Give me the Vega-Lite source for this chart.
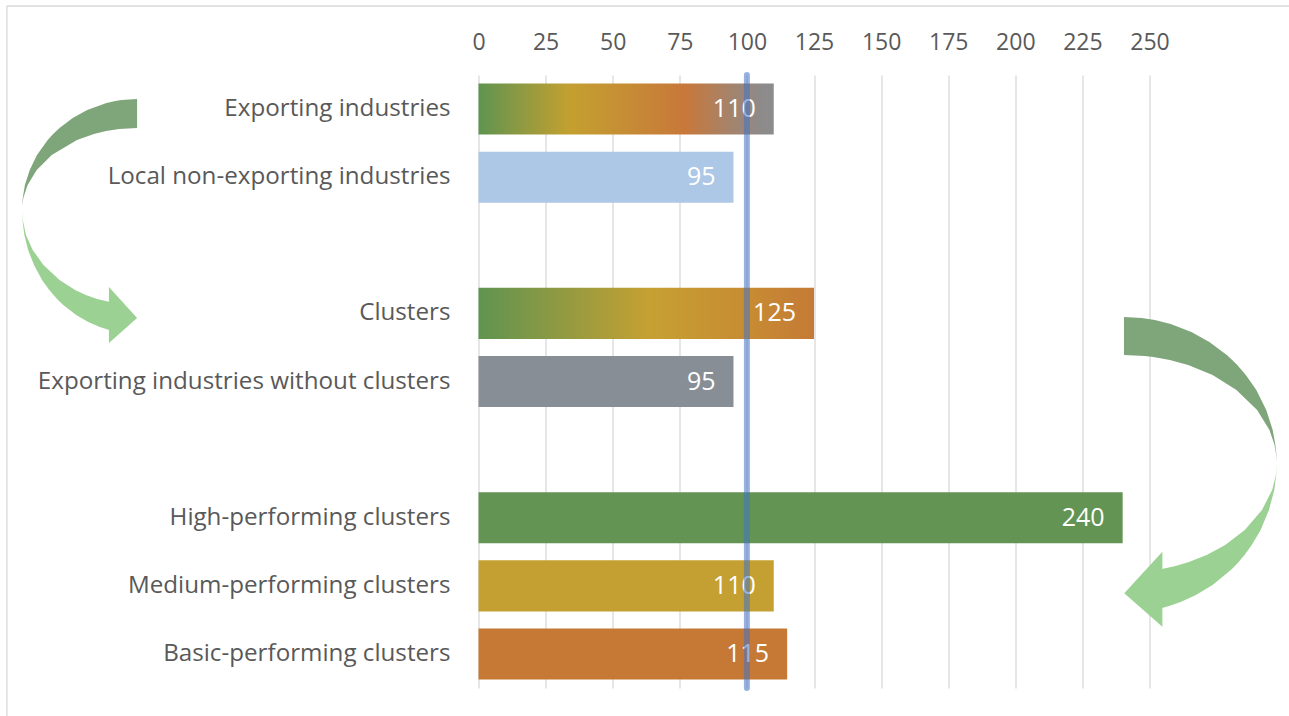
{
  "$schema": "https://vega.github.io/schema/vega-lite/v6.json",
  "width": 671,
  "height": 613,
  "autosize": {"type": "none"},
  "padding": {"left": 478.5, "top": 75, "right": 139.5, "bottom": 28},
  "background": "white",
  "config": {
    "view": {"stroke": null},
    "font": "Open Sans",
    "axis": {
      "domain": false,
      "ticks": false,
      "tickSize": 0,
      "labelColor": "#595959",
      "labelFont": "Open Sans",
      "labelFlush": false,
      "labelOverlap": false,
      "gridColor": "#d9d9d9",
      "gridWidth": 1.3
    }
  },
  "datasets": {
    "bars": [
      {"name": "Exporting industries", "value": 110},
      {"name": "Local non-exporting industries", "value": 95},
      {"name": "Clusters", "value": 125},
      {"name": "Exporting industries without clusters", "value": 95},
      {"name": "High-performing clusters", "value": 240},
      {"name": "Medium-performing clusters", "value": 110},
      {"name": "Basic-performing clusters", "value": 115}
    ],
    "arrows": [
      {"shape": "left-back", "part": "back", "pos": 0.352, "from": -127.2, "to": -127.2},
      {"shape": "left-back", "part": "back", "pos": 0.367, "from": -133.0, "to": -127.2},
      {"shape": "left-back", "part": "back", "pos": 0.382, "from": -135.3, "to": -127.2},
      {"shape": "left-back", "part": "back", "pos": 0.411, "from": -138.6, "to": -127.2},
      {"shape": "left-back", "part": "back", "pos": 0.514, "from": -145.8, "to": -127.2},
      {"shape": "left-back", "part": "back", "pos": 0.631, "from": -151.2, "to": -127.2},
      {"shape": "left-back", "part": "back", "pos": 0.778, "from": -156.1, "to": -127.2},
      {"shape": "left-back", "part": "back", "pos": 0.793, "from": -156.5, "to": -133.9},
      {"shape": "left-back", "part": "back", "pos": 0.822, "from": -157.3, "to": -138.7},
      {"shape": "left-back", "part": "back", "pos": 0.866, "from": -158.5, "to": -143.3},
      {"shape": "left-back", "part": "back", "pos": 0.954, "from": -160.5, "to": -149.6},
      {"shape": "left-back", "part": "back", "pos": 1.175, "from": -164.5, "to": -159.0},
      {"shape": "left-back", "part": "back", "pos": 1.395, "from": -167.2, "to": -164.6},
      {"shape": "left-back", "part": "back", "pos": 1.615, "from": -169.0, "to": -168.0},
      {"shape": "left-back", "part": "back", "pos": 1.806, "from": -169.8, "to": -169.6},
      {"shape": "left-back", "part": "back", "pos": 1.923, "from": -170.0, "to": -170.0},
      {"shape": "left-back", "part": "back", "pos": 1.982, "from": -170.1, "to": -170.1},

      {"shape": "left-front", "part": "front", "pos": 1.982, "from": -170.1, "to": -170.1},
      {"shape": "left-front", "part": "front", "pos": 2.129, "from": -169.9, "to": -169.8},
      {"shape": "left-front", "part": "front", "pos": 2.349, "from": -169.2, "to": -168.6},
      {"shape": "left-front", "part": "front", "pos": 2.569, "from": -167.8, "to": -166.1},
      {"shape": "left-front", "part": "front", "pos": 2.790, "from": -165.6, "to": -162.1},
      {"shape": "left-front", "part": "front", "pos": 3.010, "from": -162.6, "to": -156.1},
      {"shape": "left-front", "part": "front", "pos": 3.157, "from": -159.9, "to": -150.3},
      {"shape": "left-front", "part": "front", "pos": 3.230, "from": -158.3, "to": -146.3},
      {"shape": "left-front", "part": "front", "pos": 3.289, "from": -157.0, "to": -142.1},
      {"shape": "left-front", "part": "front", "pos": 3.333, "from": -155.9, "to": -137.3},
      {"shape": "left-front", "part": "front", "pos": 3.377, "from": -154.7, "to": -137.3},
      {"shape": "left-front", "part": "front", "pos": 3.524, "from": -149.9, "to": -137.3},
      {"shape": "left-front", "part": "front", "pos": 3.626, "from": -145.4, "to": -137.3},
      {"shape": "left-front", "part": "front", "pos": 3.700, "from": -141.1, "to": -137.3},
      {"shape": "left-front", "part": "front", "pos": 3.744, "from": -137.6, "to": -137.3},

      {"shape": "left-head", "part": "front", "pos": 3.113, "from": -137.7, "to": -137.7},
      {"shape": "left-head", "part": "front", "pos": 3.568, "from": -137.7, "to": -127.2},
      {"shape": "left-head", "part": "front", "pos": 3.935, "from": -137.7, "to": -137.7},

      {"shape": "right-back", "part": "back", "pos": 3.553, "from": 240.5, "to": 240.5},
      {"shape": "right-back", "part": "back", "pos": 3.568, "from": 247.1, "to": 240.5},
      {"shape": "right-back", "part": "back", "pos": 3.597, "from": 252.0, "to": 240.5},
      {"shape": "right-back", "part": "back", "pos": 3.656, "from": 257.9, "to": 240.5},
      {"shape": "right-back", "part": "back", "pos": 3.773, "from": 265.6, "to": 240.5},
      {"shape": "right-back", "part": "back", "pos": 3.920, "from": 272.3, "to": 240.5},
      {"shape": "right-back", "part": "back", "pos": 4.111, "from": 278.8, "to": 240.5},
      {"shape": "right-back", "part": "back", "pos": 4.126, "from": 279.2, "to": 248.2},
      {"shape": "right-back", "part": "back", "pos": 4.140, "from": 279.6, "to": 251.4},
      {"shape": "right-back", "part": "back", "pos": 4.184, "from": 280.8, "to": 257.6},
      {"shape": "right-back", "part": "back", "pos": 4.258, "from": 282.7, "to": 264.4},
      {"shape": "right-back", "part": "back", "pos": 4.405, "from": 285.9, "to": 273.5},
      {"shape": "right-back", "part": "back", "pos": 4.625, "from": 289.8, "to": 282.4},
      {"shape": "right-back", "part": "back", "pos": 4.918, "from": 293.5, "to": 290.1},
      {"shape": "right-back", "part": "back", "pos": 5.212, "from": 295.9, "to": 294.7},
      {"shape": "right-back", "part": "back", "pos": 5.432, "from": 296.9, "to": 296.6},
      {"shape": "right-back", "part": "back", "pos": 5.579, "from": 297.3, "to": 297.2},
      {"shape": "right-back", "part": "back", "pos": 5.697, "from": 297.4, "to": 297.4},

      {"shape": "right-front", "part": "front", "pos": 5.697, "from": 297.4, "to": 297.4},
      {"shape": "right-front", "part": "front", "pos": 5.873, "from": 297.2, "to": 297.1},
      {"shape": "right-front", "part": "front", "pos": 6.093, "from": 296.5, "to": 295.7},
      {"shape": "right-front", "part": "front", "pos": 6.387, "from": 294.5, "to": 291.9},
      {"shape": "right-front", "part": "front", "pos": 6.680, "from": 291.4, "to": 285.5},
      {"shape": "right-front", "part": "front", "pos": 6.901, "from": 288.1, "to": 278.2},
      {"shape": "right-front", "part": "front", "pos": 7.047, "from": 285.4, "to": 271.3},
      {"shape": "right-front", "part": "front", "pos": 7.150, "from": 283.2, "to": 264.7},
      {"shape": "right-front", "part": "front", "pos": 7.209, "from": 281.8, "to": 259.7},
      {"shape": "right-front", "part": "front", "pos": 7.253, "from": 280.7, "to": 254.6},
      {"shape": "right-front", "part": "front", "pos": 7.268, "from": 280.3, "to": 254.4},
      {"shape": "right-front", "part": "front", "pos": 7.488, "from": 273.5, "to": 254.4},
      {"shape": "right-front", "part": "front", "pos": 7.635, "from": 267.3, "to": 254.4},
      {"shape": "right-front", "part": "front", "pos": 7.737, "from": 261.6, "to": 254.4},
      {"shape": "right-front", "part": "front", "pos": 7.796, "from": 257.3, "to": 254.4},
      {"shape": "right-front", "part": "front", "pos": 7.826, "from": 254.7, "to": 254.4},

      {"shape": "right-head", "part": "front", "pos": 6.999, "from": 254.8, "to": 254.8},
      {"shape": "right-head", "part": "front", "pos": 7.610, "from": 254.8, "to": 240.6},
      {"shape": "right-head", "part": "front", "pos": 8.100, "from": 254.8, "to": 254.8}
    ]
  },
  "layer": [
    {
      "data": {"name": "bars"},
      "encoding": {
        "x": {
          "field": "value",
          "type": "quantitative",
          "scale": {"domain": [0, 250], "nice": false, "zero": false},
          "axis": {
            "orient": "top",
            "values": [0, 25, 50, 75, 100, 125, 150, 175, 200, 225, 250],
            "grid": true,
            "labelFontSize": 23,
            "labelPadding": 21,
            "title": null
          }
        },
        "y": {
          "field": "name",
          "type": "nominal",
          "scale": {
            "domain": [
              "Exporting industries",
              "Local non-exporting industries",
              " ",
              "Clusters",
              "Exporting industries without clusters",
              "  ",
              "High-performing clusters",
              "Medium-performing clusters",
              "Basic-performing clusters"
            ],
            "paddingInner": 0.25,
            "paddingOuter": 0.125
          },
          "axis": {
            "grid": false,
            "labelFontSize": 24.2,
            "labelPadding": 28.5,
            "labelLimit": 600,
            "title": null
          }
        }
      },
      "layer": [
        {
          "transform": [
            {"filter": {"field": "name", "oneOf": [
              "Local non-exporting industries",
              "Exporting industries without clusters",
              "High-performing clusters",
              "Medium-performing clusters",
              "Basic-performing clusters"
            ]}}
          ],
          "mark": {"type": "bar"},
          "encoding": {
            "color": {
              "field": "name",
              "type": "nominal",
              "scale": {
                "domain": [
                  "Local non-exporting industries",
                  "Exporting industries without clusters",
                  "High-performing clusters",
                  "Medium-performing clusters",
                  "Basic-performing clusters"
                ],
                "range": ["#adc7e6", "#878e96", "#639454", "#c4a032", "#c57935"]
              },
              "legend": null
            }
          }
        },
        {
          "transform": [{"filter": {"field": "name", "equal": "Exporting industries"}}],
          "mark": {
            "type": "bar",
            "color": {
              "gradient": "linear",
              "x1": 0, "x2": 1, "y1": 0, "y2": 0,
              "stops": [
                {"offset": 0, "color": "#5f9450"},
                {"offset": 0.31, "color": "#c4a030"},
                {"offset": 0.7, "color": "#c8783a"},
                {"offset": 0.95, "color": "#8e8a8a"},
                {"offset": 1, "color": "#8c8c8c"}
              ]
            }
          }
        },
        {
          "transform": [{"filter": {"field": "name", "equal": "Clusters"}}],
          "mark": {
            "type": "bar",
            "color": {
              "gradient": "linear",
              "x1": 0, "x2": 1, "y1": 0, "y2": 0,
              "stops": [
                {"offset": 0, "color": "#5f9450"},
                {"offset": 0.51, "color": "#c6a032"},
                {"offset": 0.8, "color": "#c78c32"},
                {"offset": 1, "color": "#c57a36"}
              ]
            }
          }
        },
        {
          "mark": {
            "type": "text",
            "align": "right",
            "baseline": "middle",
            "dx": -18,
            "color": "white",
            "fontSize": 25
          },
          "encoding": {"text": {"field": "value", "type": "quantitative"}}
        }
      ]
    },
    {
      "layer": [
        {
          "data": {"name": "arrows"},
          "mark": {"type": "area", "orient": "horizontal", "interpolate": "linear"},
          "encoding": {
            "y": {
              "field": "pos",
              "type": "quantitative",
              "scale": {"domain": [0, 9], "reverse": true, "nice": false, "zero": false},
              "axis": null
            },
            "x": {
              "field": "from",
              "type": "quantitative",
              "stack": null,
              "scale": {"domain": [0, 250], "nice": false, "zero": false},
              "axis": null
            },
            "x2": {"field": "to"},
            "detail": {"field": "shape", "type": "nominal"},
            "color": {
              "field": "part",
              "type": "nominal",
              "scale": {"domain": ["back", "front"], "range": ["#7fa67a", "#9bd192"]},
              "legend": null
            }
          }
        },
        {
          "data": {"values": [{}]},
          "mark": {"type": "rule", "color": "#4472c4", "opacity": 0.55, "strokeWidth": 6, "strokeCap": "round"},
          "encoding": {
            "x": {"datum": 100, "type": "quantitative", "scale": {"domain": [0, 250], "nice": false, "zero": false}, "axis": null}
          }
        },
        {
          "data": {"values": [{}]},
          "mark": {"type": "rule", "color": "#d9d9d9", "strokeWidth": 1.3},
          "encoding": {
            "x": {"datum": -175.7, "type": "quantitative", "scale": {"domain": [0, 250], "nice": false, "zero": false}, "axis": null},
            "x2": {"datum": 305},
            "y": {"datum": -1.013, "type": "quantitative", "scale": {"domain": [0, 9], "reverse": true, "nice": false, "zero": false}, "axis": null}
          }
        },
        {
          "data": {"values": [{}]},
          "mark": {"type": "rule", "color": "#d9d9d9", "strokeWidth": 1.3},
          "encoding": {
            "x": {"datum": -175.7, "type": "quantitative", "scale": {"domain": [0, 250], "nice": false, "zero": false}, "axis": null},
            "y": {"datum": -1.013, "type": "quantitative", "scale": {"domain": [0, 9], "reverse": true, "nice": false, "zero": false}, "axis": null},
            "y2": {"datum": 9.8}
          }
        }
      ]
    }
  ],
  "resolve": {"scale": {"x": "independent", "y": "independent", "color": "independent"}}
}
